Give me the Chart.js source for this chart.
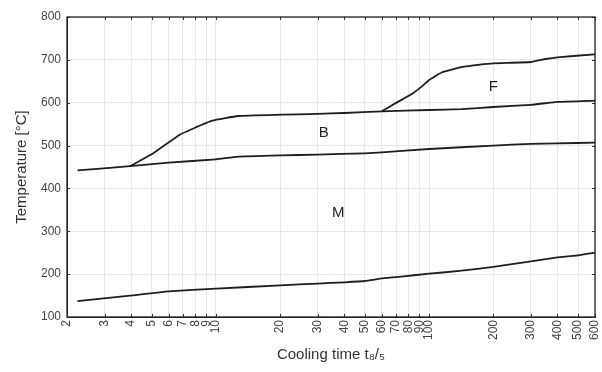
<!DOCTYPE html>
<html>
<head>
<meta charset="utf-8">
<script src="https://cdn.jsdelivr.net/npm/chart.js@4"></script>
<style>
  body { margin: 0; background: #fff; }
  #wrap { width: 602px; height: 372px; }
</style>
</head>
<body>
<div id="wrap"><canvas id="myChart"></canvas></div>
<script>
const ctx = document.getElementById("myChart");

// ticks
const xTicks = [2, 3, 4, 5, 6, 7, 8, 9, 10, 20, 30, 40, 50, 60, 70, 80, 90, 100, 200, 300, 400, 500, 600];
const yTicks = [100, 200, 300, 400, 500, 600, 700, 800];

// Ms (martensite start)
const msTime = [2.24, 3.95, 6, 10, 20, 30, 40, 50, 60, 76, 100, 142, 200, 300, 400, 500, 600];
const msTemp = [137, 150, 160, 166, 174, 178, 181, 184, 190, 195, 201, 208, 217, 230, 239, 244, 250];

// bainite / martensite boundary
const bmTime = [2.24, 3.95, 6, 10, 12.7, 20, 30, 50, 60, 100, 200, 300, 400, 600];
const bmTemp = [442, 452, 460, 468, 474, 477, 479, 482, 484, 492, 500, 504, 505, 507];

// bainite start
const bsTime = [3.95, 5.08, 6.78, 7.68, 9.6, 12.7, 20, 30, 40, 60, 100, 142, 200, 300, 400, 600];
const bsTemp = [452, 482, 526, 538, 558, 569, 572, 574, 576, 580, 583, 585, 590, 595, 602, 605];

// ferrite start
const fsTime = [60, 69.6, 84, 92.5, 100, 115, 142, 173, 200, 300, 352, 400, 600];
const fsTemp = [580, 599, 622, 638, 653, 671, 683, 689, 692, 695, 702, 706, 713];

// region labels
const zonas = ["F", "B", "M"];
const zonaTime = [200, 32, 37.5];
const zonaTemp = [638, 530, 343];

const fuente = "'Liberation Sans', Arial, sans-serif";

const aPuntos = (tiempos, temps) => tiempos.map((t, i) => ({ x: t, y: temps[i] }));

const linea = (tiempos, temps) => ({
  data: aPuntos(tiempos, temps),
  borderColor: "#1e1e1e",
  borderWidth: 1.8,
  pointRadius: 0,
  tension: 0.12,
  fill: false,
});

// marco, marcas hacia dentro y etiquetas de zonas
const extras = {
  id: "extras",
  afterDraw(chart) {
    const { ctx: c, chartArea: a, scales } = chart;
    c.save();
    c.strokeStyle = "#333";
    c.lineWidth = 1;
    c.beginPath();
    scales.x.ticks.forEach((t) => {
      const px = Math.round(scales.x.getPixelForValue(t.value)) + 0.5;
      c.moveTo(px, a.bottom); c.lineTo(px, a.bottom - 3);
      c.moveTo(px, a.top); c.lineTo(px, a.top + 3);
    });
    scales.y.ticks.forEach((t) => {
      const py = Math.round(scales.y.getPixelForValue(t.value)) + 0.5;
      c.moveTo(a.left, py); c.lineTo(a.left + 3, py);
      c.moveTo(a.right, py); c.lineTo(a.right - 3, py);
    });
    c.stroke();
    c.strokeStyle = "#222";
    c.lineWidth = 1.3;
    c.strokeRect(a.left, a.top, a.right - a.left, a.bottom - a.top);
    c.fillStyle = "#222";
    c.font = "15px " + fuente;
    c.textAlign = "center";
    c.textBaseline = "middle";
    zonas.forEach((z, i) => {
      c.fillText(z, scales.x.getPixelForValue(zonaTime[i]), scales.y.getPixelForValue(zonaTemp[i]));
    });
    c.restore();
  },
};

new Chart(ctx, {
  type: "line",
  data: {
    datasets: [
      linea(msTime, msTemp),
      linea(bmTime, bmTemp),
      linea(bsTime, bsTemp),
      linea(fsTime, fsTemp),
    ],
  },
  options: {
    responsive: true,
    maintainAspectRatio: false,
    animation: false,
    layout: { padding: { top: 17, right: 7, left: 0, bottom: 0 } },
    plugins: { legend: { display: false }, tooltip: { enabled: false } },
    scales: {
      x: {
        type: "logarithmic",
        min: 2,
        max: 600,
        afterBuildTicks: (scale) => {
          scale.ticks = xTicks.map((v) => ({ value: v }));
        },
        afterFit: (scale) => {
          scale.height = 55;
          scale.paddingLeft = 0;
          scale.paddingRight = 0;
        },
        ticks: {
          autoSkip: false,
          maxRotation: 90,
          minRotation: 90,
          padding: 3,
          color: "#444",
          font: { family: fuente, size: 12 },
          callback: (v) => String(v),
        },
        grid: { color: "#e8e8e8", drawTicks: false },
        border: { color: "#222" },
        title: {
          display: true,
          text: "Cooling time t₈/₅",
          color: "#333",
          font: { family: fuente, size: 15 },
          padding: { top: 0, bottom: 8 },
        },
      },
      y: {
        type: "linear",
        min: 100,
        max: 800,
        afterBuildTicks: (scale) => {
          scale.ticks = yTicks.map((v) => ({ value: v }));
        },
        afterFit: (scale) => {
          scale.width = 67;
          scale.paddingTop = 0;
          scale.paddingBottom = 0;
        },
        ticks: {
          padding: 6,
          color: "#444",
          font: { family: fuente, size: 12 },
        },
        grid: { color: "#e8e8e8", drawTicks: false },
        border: { color: "#222" },
        title: {
          display: true,
          text: "Temperature [°C]",
          color: "#333",
          font: { family: fuente, size: 15 },
          padding: { top: 13, bottom: 0 },
        },
      },
    },
  },
  plugins: [extras],
});
</script>
</body>
</html>
